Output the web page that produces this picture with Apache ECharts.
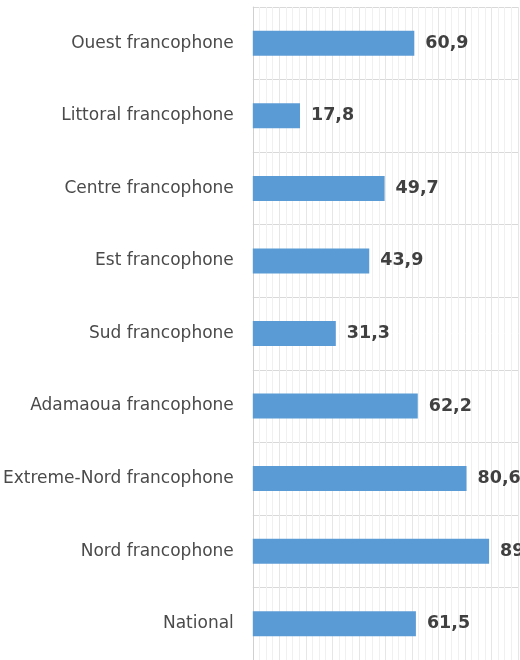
<!DOCTYPE html>
<html>
<head>
<meta charset="utf-8">
<script src="https://cdn.jsdelivr.net/npm/echarts@6/dist/echarts.min.js"></script>
<style>
html,body{margin:0;padding:0;background:#fff;}
#chart{width:520px;height:660px;}
</style>
</head>
<body>
<div id="chart"></div>
<script>
var categories = ["Ouest francophone","Littoral francophone","Centre francophone","Est francophone","Sud francophone","Adamaoua francophone","Extreme-Nord francophone","Nord francophone","National"];
var values = [60.9, 17.8, 49.7, 43.9, 31.3, 62.2, 80.6, 89.1, 61.5];
var xMin = 0, xMax = 100, xInterval = 10;

var chart = echarts.init(document.getElementById('chart'), null, {renderer:'canvas'});
chart.setOption({
  animation:false,
  grid:{left:252, top:7, width:266, height:657, containLabel:false},
  xAxis:{
    type:'value', min:xMin, max:xMax, interval:xInterval,
    axisLabel:{show:false}, axisLine:{show:false}, axisTick:{show:false},
    splitLine:{show:true, lineStyle:{color:'#e6e6e6', width:1}},
    minorTick:{show:false, splitNumber:4},
    minorSplitLine:{show:true, lineStyle:{color:'#f0f0f0', width:1}}
  },
  yAxis:{
    type:'category', data:categories, inverse:true,
    axisLine:{show:true, lineStyle:{color:'#d0d0d0', width:1}},
    axisTick:{show:false},
    splitLine:{show:true, lineStyle:{color:'#d9d9d9', width:1}},
    axisLabel:{color:'#4a4a4a', fontSize:17, fontFamily:'DejaVu Sans', margin:19}
  },
  series:[{
    type:'bar', data:values, barWidth:25,
    itemStyle:{color:'#5b9bd5'},
    label:{show:true, position:'right', distance:11, color:'#404040', fontSize:17.5, fontWeight:'bold', fontFamily:'DejaVu Sans',
      formatter:function(p){return p.value.toFixed(1).replace('.', ',');}}
  }]
});
</script>
</body>
</html>
